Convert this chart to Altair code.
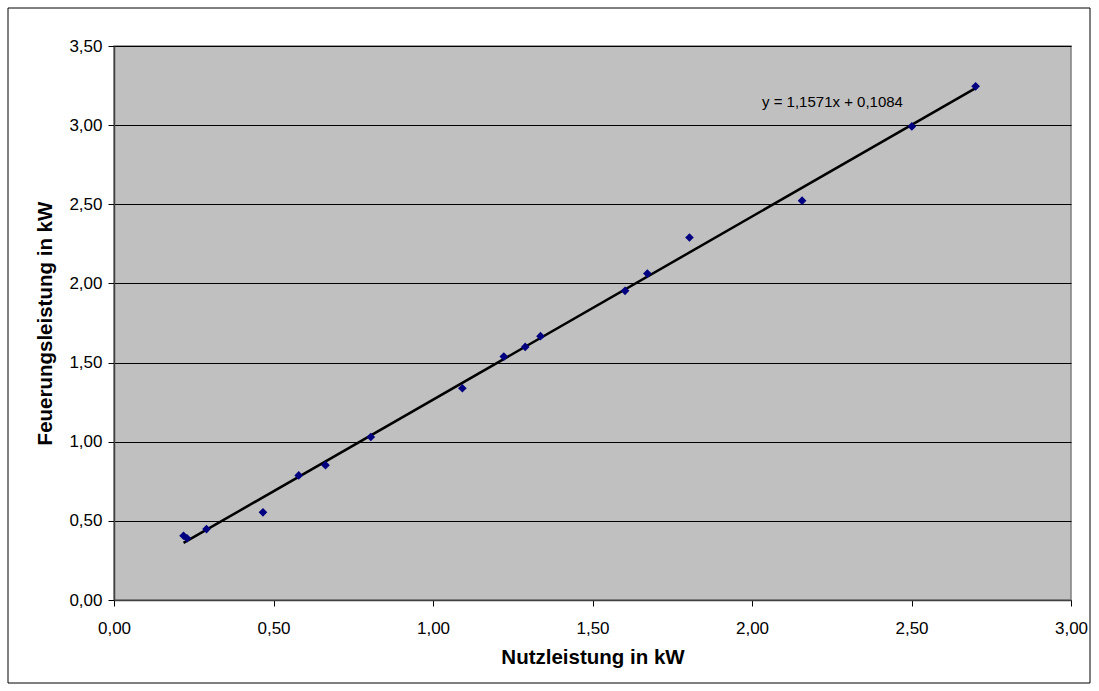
import altair as alt
import pandas as pd

# Data
nutzleistung = [0.218, 0.229, 0.290, 0.467, 0.579, 0.663, 0.805, 1.092, 1.222, 1.289,
                1.337, 1.602, 1.672, 1.804, 2.157, 2.501, 2.701]
feuerungsleistung = [0.406, 0.390, 0.448, 0.554, 0.787, 0.852, 1.030, 1.338, 1.538, 1.599,
                     1.667, 1.953, 2.062, 2.290, 2.523, 2.992, 3.245]
slope = 1.1571
intercept = 0.1084
equation_label = "y = 1,1571x + 0,1084"
x_ticks = [0.0, 0.5, 1.0, 1.5, 2.0, 2.5, 3.0]
y_ticks = [0.0, 0.5, 1.0, 1.5, 2.0, 2.5, 3.0, 3.5]

pts = pd.DataFrame({"x": nutzleistung, "y": feuerungsleistung})
xmin, xmax = min(nutzleistung), max(nutzleistung)
fit = pd.DataFrame({"x": [xmin, xmax], "y": [slope * xmin + intercept, slope * xmax + intercept]})

FONT = "Liberation Sans"
label_expr = "replace(format(datum.value, '.2f'), '.', ',')"

x_scale = alt.Scale(domain=[0, 3], nice=False, zero=True)
y_scale = alt.Scale(domain=[0, 3.5], nice=False, zero=True)

x_axis = alt.Axis(values=x_ticks, labelExpr=label_expr, grid=False, title="Nutzleistung in kW",
                  tickSize=6, tickColor="#000000", domainColor="#404040", domainWidth=1.5,
                  labelPadding=14, titlePadding=11, labelFontSize=17, titleFontSize=20.5,
                  titleFontWeight="bold", labelFont=FONT, titleFont=FONT, labelColor="#000000",
                  titleColor="#000000", labelFlush=False)
y_axis = alt.Axis(values=y_ticks, labelExpr=label_expr, grid=True, gridColor="#000000",
                  gridWidth=1, title="Feuerungsleistung in kW", tickSize=6, tickColor="#000000",
                  domainColor="#404040", domainWidth=1.5, labelPadding=6, titlePadding=13,
                  labelFontSize=17, titleFontSize=20.5, titleFontWeight="bold", labelFont=FONT,
                  titleFont=FONT, labelColor="#000000", titleColor="#000000", labelFlush=False)

points = alt.Chart(pts).mark_point(shape="diamond", filled=True, color="#000080", size=75, opacity=1).encode(
    x=alt.X("x:Q", scale=x_scale, axis=x_axis),
    y=alt.Y("y:Q", scale=y_scale, axis=y_axis),
)

line = alt.Chart(fit).mark_line(color="#000000", strokeWidth=2.5).encode(
    x=alt.X("x:Q", scale=x_scale),
    y=alt.Y("y:Q", scale=y_scale),
)

eq = alt.Chart(pd.DataFrame({"t": [equation_label]})).mark_text(
    align="left", baseline="middle", font=FONT, fontSize=15, color="#000000"
).encode(text="t:N", x=alt.value(648), y=alt.value(56))

border = alt.Chart(pd.DataFrame({"a": [0]})).mark_rect(
    filled=False, stroke="#000000", strokeWidth=1, clip=False
).encode(x=alt.value(-106), x2=alt.value(976), y=alt.value(-38), y2=alt.value(637))

chart = alt.layer(border, line, points, eq).properties(
    width=957, height=554,
    autosize=alt.AutoSizeParams(type="none"),
    padding={"left": 114, "top": 46, "right": 28, "bottom": 91},
    background="#FFFFFF",
).configure_view(fill="#C0C0C0", stroke="#808080", strokeWidth=1.5)

chart.save("out.html", embed_options={"renderer": "svg", "actions": False})
